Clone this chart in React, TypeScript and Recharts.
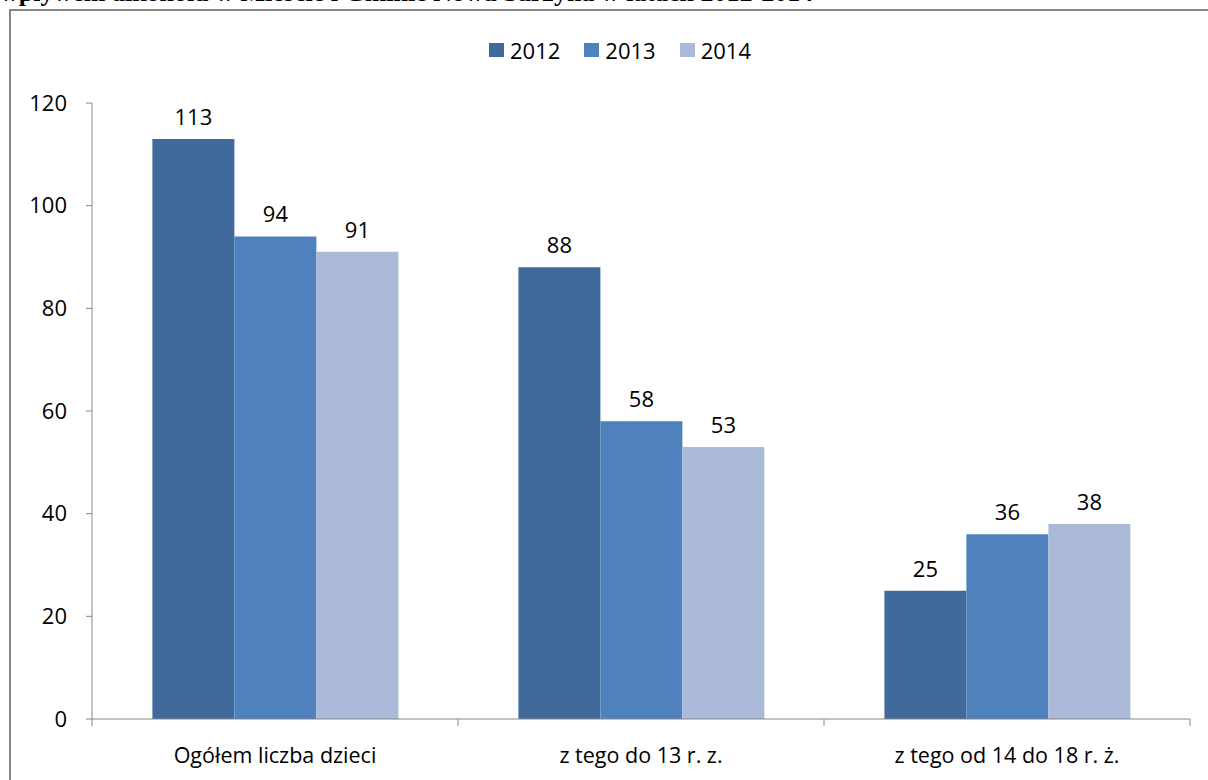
import React from "react";
import { BarChart, Bar, XAxis, YAxis, Legend, LabelList } from "recharts";

const categories = ["Ogółem liczba dzieci", "z tego do 13 r. z.", "z tego od 14 do 18 r. ż."];
const v2012 = [113, 88, 25];
const v2013 = [94, 58, 36];
const v2014 = [91, 53, 38];
const yTicks = [0, 20, 40, 60, 80, 100, 120];
const seriesNames = ["2012", "2013", "2014"];
const seriesColors = ["#3F6A9B", "#4F81BD", "#AABAD8"];

const data = categories.map((name, i) => ({
  name,
  "2012": v2012[i],
  "2013": v2013[i],
  "2014": v2014[i],
}));

const FONT = "'Open Sans', sans-serif";
const AXIS = "#868686";

function CatTick(props: any) {
  const { x, y, payload, index, visibleTicksCount } = props;
  const half = payload?.offset || 183;
  const top = y - 8;
  return (
    <g>
      <line x1={x - half} y1={top} x2={x - half} y2={top + 7} stroke={AXIS} />
      {index === (visibleTicksCount ?? 3) - 1 ? (
        <line x1={x + half} y1={top} x2={x + half} y2={top + 7} stroke={AXIS} />
      ) : null}
      <text x={x} y={y + 36} textAnchor="middle" fontSize={21.5} fontFamily={FONT} fill="#000">
        {payload.value}
      </text>
    </g>
  );
}

function LegendBox() {
  return (
    <div style={{ height: 65, display: "flex", justifyContent: "center", paddingLeft: 50, fontFamily: FONT, fontSize: 22 }}>
      {seriesNames.map((s, i) => (
        <div key={s} style={{ display: "flex", alignItems: "center", height: 24, marginRight: i < 2 ? 24 : 0 }}>
          <span style={{ width: 15, height: 14, background: seriesColors[i], display: "inline-block", marginRight: 6 }} />
          <span>{s}</span>
        </div>
      ))}
    </div>
  );
}

export default function App() {
  return (
    <div style={{ position: "fixed", left: 0, top: 0, width: 1208, height: 780, overflow: "hidden", background: "#fff" }}>
      <div
        style={{
          position: "absolute",
          left: 0,
          top: -22,
          fontFamily: "'Liberation Serif', 'Times New Roman', serif",
          fontWeight: "bold",
          fontSize: 26,
          lineHeight: "30px",
          whiteSpace: "nowrap",
          color: "#000",
        }}
      >
        wpływem alkoholu w Mieście i Gminie Nowa Sarzyna w latach 2012-2014
      </div>
      <div
        style={{
          position: "absolute",
          left: 9,
          top: 9,
          width: 1300,
          height: 900,
          borderTop: `2px solid ${AXIS}`,
          borderLeft: `2px solid ${AXIS}`,
          boxSizing: "border-box",
          background: "#fff",
        }}
      />
      <div style={{ position: "absolute", left: 0, top: 0 }}>
        <BarChart
          width={1208}
          height={780}
          data={data}
          margin={{ top: 38, right: 18, left: 0, bottom: 0 }}
          barCategoryGap="16.5%"
          barGap={0}
        >
          <Legend verticalAlign="top" content={() => <LegendBox />} />
          <YAxis
            width={92}
            domain={[0, 120]}
            ticks={yTicks}
            interval={0}
            stroke={AXIS}
            tickSize={6}
            tickMargin={19}
            tick={{ fontSize: 22, fontFamily: FONT, fill: "#000" }}
          />
          <XAxis
            dataKey="name"
            height={61}
            stroke={AXIS}
            tickLine={false}
            tick={<CatTick />}
            interval={0}
          />
          {seriesNames.map((s, i) => (
            <Bar key={s} dataKey={s} fill={seriesColors[i]} isAnimationActive={false}>
              <LabelList dataKey={s} position="top" offset={14} fontSize={22} fontFamily={FONT} fill="#000" />
            </Bar>
          ))}
        </BarChart>
      </div>
    </div>
  );
}
